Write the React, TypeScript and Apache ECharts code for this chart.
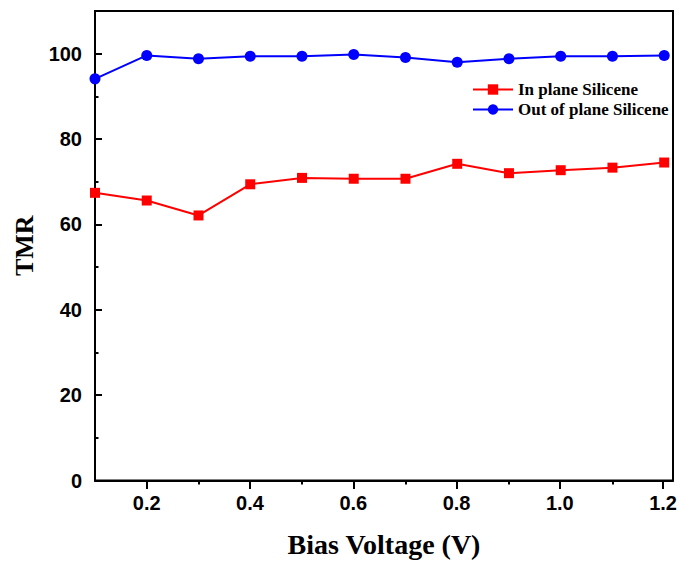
import React, { useEffect, useRef } from 'react';
import * as echarts from 'echarts';

// ---- data ----
const biasVoltage = [0.1, 0.2, 0.3, 0.4, 0.5, 0.6, 0.7, 0.8, 0.9, 1.0, 1.1, 1.2];
const inPlaneTMR = [67.4, 65.6, 62.1, 69.4, 70.9, 70.7, 70.7, 74.2, 72.0, 72.7, 73.3, 74.5];
const outOfPlaneTMR = [94.1, 99.6, 98.8, 99.4, 99.4, 99.8, 99.1, 98.0, 98.8, 99.4, 99.4, 99.6];
const seriesNames = ['In plane Silicene', 'Out of plane Silicene'];
const xAxisTitle = 'Bias Voltage (V)';
const yAxisTitle = 'TMR';

// ---- layout ----
const W = 680;
const H = 564;
const L = 95;
const R = 673;
const T = 11;
const B = 480.5;
const X_MIN = 0.1;
const X_MAX = 1.217;
const Y_MIN = 0;
const Y_MAX = 110;

const fx = (v: number) => L + ((v - X_MIN) / (X_MAX - X_MIN)) * (R - L);
const fy = (v: number) => B - ((v - Y_MIN) / (Y_MAX - Y_MIN)) * (B - T);

const SANS = 'Liberation Sans';
const SERIF = 'Liberation Serif';

export default function App() {
  const ref = useRef<HTMLDivElement>(null);

  useEffect(() => {
    if (!ref.current) return;
    const chart = echarts.init(ref.current, undefined, { renderer: 'svg' });

    const axisTickStyle = { color: '#000', width: 2 };

    const option: any = {
      animation: false,
      backgroundColor: '#ffffff',
      grid: [
        { left: L, top: T, width: R - L, height: B - T, show: true, borderColor: '#000', borderWidth: 2, backgroundColor: 'transparent', containLabel: false },
        { left: fx(0.2), top: T, width: fx(1.2) - fx(0.2), height: B - T, show: false, containLabel: false },
        { left: fx(0.3), top: T, width: fx(1.1) - fx(0.3), height: B - T, show: false, containLabel: false },
        { left: L, top: fy(90), width: R - L, height: fy(10) - fy(90), show: false, containLabel: false },
      ],
      xAxis: [
        {
          gridIndex: 0, type: 'value', min: X_MIN, max: X_MAX,
          axisLine: { show: true, onZero: false, lineStyle: { color: '#000', width: 2 } },
          axisTick: { show: false }, axisLabel: { show: false }, splitLine: { show: false },
          name: xAxisTitle, nameLocation: 'middle', nameGap: 50,
          nameTextStyle: { fontFamily: SERIF, fontWeight: 'bold', fontSize: 28, color: '#000' },
        },
        {
          gridIndex: 1, type: 'value', min: 0.2, max: 1.2, interval: 0.2,
          axisLine: { show: false }, splitLine: { show: false },
          axisTick: { show: true, inside: false, length: 8.5, lineStyle: axisTickStyle },
          axisLabel: { show: true, margin: 12, fontFamily: SANS, fontWeight: 'bold', fontSize: 20, color: '#000', formatter: (v: number) => v.toFixed(1) },
        },
        {
          gridIndex: 2, type: 'value', min: 0.3, max: 1.1, interval: 0.2,
          axisLine: { show: false }, splitLine: { show: false },
          axisTick: { show: true, inside: false, length: 4, lineStyle: axisTickStyle },
          axisLabel: { show: false },
        },
        {
          gridIndex: 3, type: 'value', min: 0, max: 1, show: false,
        },
      ],
      yAxis: [
        {
          gridIndex: 0, type: 'value', min: Y_MIN, max: Y_MAX, interval: 20,
          axisLine: { show: true, onZero: false, lineStyle: { color: '#000', width: 2 } },
          axisTick: { show: true, inside: true, length: 7, lineStyle: axisTickStyle },
          axisLabel: { show: true, margin: 13, fontFamily: SANS, fontWeight: 'bold', fontSize: 20, color: '#000', formatter: (v: number) => (v > 100 ? '' : String(v)) },
          splitLine: { show: false },
          name: yAxisTitle, nameLocation: 'middle', nameGap: 55, nameRotate: 90,
          nameTextStyle: { fontFamily: SERIF, fontWeight: 'bold', fontSize: 26, color: '#000' },
        },
        { gridIndex: 1, type: 'value', min: 0, max: 1, show: false },
        { gridIndex: 2, type: 'value', min: 0, max: 1, show: false },
        {
          gridIndex: 3, type: 'value', min: 10, max: 90, interval: 20,
          axisLine: { show: false }, splitLine: { show: false },
          axisTick: { show: true, inside: true, length: 3.5, lineStyle: axisTickStyle },
          axisLabel: { show: false },
        },
      ],
      legend: {
        orient: 'vertical', left: 467, top: 76,
        itemWidth: 40, itemHeight: 13, itemGap: 3,
        textStyle: { fontFamily: SERIF, fontWeight: 'bold', fontSize: 17, color: '#000' },
        data: seriesNames,
      },
      series: [
        {
          name: seriesNames[0], type: 'line', xAxisIndex: 0, yAxisIndex: 0,
          data: biasVoltage.map((x, i) => [x, inPlaneTMR[i]]),
          symbol: 'rect', symbolSize: 10, clip: false,
          lineStyle: { color: '#ff0000', width: 2 },
          itemStyle: { color: '#ff0000' },
          z: 5,
        },
        {
          name: seriesNames[1], type: 'line', xAxisIndex: 0, yAxisIndex: 0,
          data: biasVoltage.map((x, i) => [x, outOfPlaneTMR[i]]),
          symbol: 'circle', symbolSize: 11, clip: false,
          lineStyle: { color: '#0000ff', width: 2 },
          itemStyle: { color: '#0000ff' },
          z: 5,
        },
      ],
    };

    chart.setOption(option);
    return () => chart.dispose();
  }, []);

  return <div ref={ref} style={{ position: 'fixed', left: 0, top: 0, width: W, height: H }} />;
}
